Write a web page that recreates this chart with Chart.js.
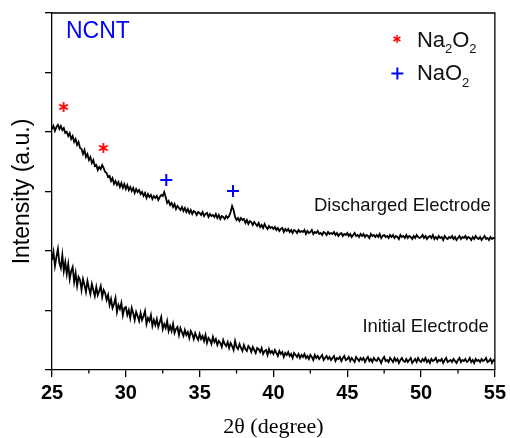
<!DOCTYPE html>
<html>
<head>
<meta charset="utf-8">
<script src="https://cdn.jsdelivr.net/npm/chart.js@4.4.1/dist/chart.umd.min.js"></script>
<style>
  html, body { margin: 0; padding: 0; background: #fff; }
  #xrd { display: block; }
</style>
</head>
<body>
<canvas id="xrd" width="510" height="438"></canvas>
<script>
/* XRD patterns of NCNT electrode, initial vs discharged.
   Intensities, one value per 0.1 degree. */

const scanStart = 25;
const scanStep = 0.1;

const discharged = [
  241, 244, 239, 243, 245, 241, 244, 240, 242, 237,
  238, 234, 237, 231, 234, 228, 231, 225, 228, 222,
  221, 216, 220, 213, 216, 210, 213, 207, 210, 204,
  205, 200, 203, 201, 205, 202, 198, 197, 193, 194,
  189, 192, 186, 189, 185, 188, 183, 187, 182, 186,
  181, 185, 180, 183, 179, 182, 177, 181, 178, 180,
  176, 178, 174, 177, 172, 176, 173, 175, 171, 174,
  172, 174, 170, 173, 175, 174, 178, 173, 167, 169,
  165, 167, 163, 166, 161, 164, 162, 160, 163, 159,
  162, 158, 161, 157, 160, 156, 159, 158, 155, 158,
  157, 155, 158, 154, 156, 157, 153, 156, 154, 155,
  153, 156, 152, 155, 151, 154, 153, 151, 154, 152,
  154, 158, 164, 160, 153, 150, 152, 149, 152, 150,
  151, 147, 150, 146, 149, 148, 145, 148, 146, 144,
  147, 143, 145, 142, 146, 143, 141, 144, 142, 143,
  141, 143, 140, 142, 139, 141, 142, 138, 141, 139,
  141, 138, 140, 137, 140, 139, 137, 140, 138, 139,
  138, 140, 136, 139, 137, 138, 140, 136, 138, 137,
  139, 136, 137, 135, 138, 137, 135, 138, 136, 137,
  136, 138, 135, 137, 134, 136, 137, 134, 136, 135,
  137, 134, 136, 133, 135, 137, 134, 135, 133, 136,
  134, 136, 133, 135, 134, 132, 136, 134, 135, 133,
  135, 133, 136, 132, 134, 135, 133, 134, 132, 135,
  133, 135, 132, 134, 133, 131, 135, 133, 134, 132,
  135, 132, 134, 133, 131, 134, 132, 135, 133, 132,
  133, 135, 132, 134, 131, 133, 134, 132, 135, 131,
  133, 131, 134, 132, 133, 130, 134, 132, 131, 133,
  132, 134, 131, 133, 130, 132, 134, 131, 133, 132,
  134, 131, 133, 132, 130, 133, 131, 134, 132, 131,
  133, 130, 132, 134, 131, 132, 130, 133, 131, 132,
  132,
];

const initial = [
  110, 118, 104, 113, 121, 107, 102, 115, 99, 108,
  96, 106, 91, 99, 103, 88, 97, 84, 93, 90,
  80, 91, 85, 78, 89, 82, 76, 86, 80, 74,
  83, 75, 79, 84, 73, 80, 77, 70, 75, 65,
  71, 62, 66, 72, 58, 65, 61, 67, 55, 62,
  63, 55, 60, 52, 62, 57, 50, 58, 54, 49,
  57, 50, 54, 59, 46, 52, 49, 55, 44, 50,
  45, 51, 43, 48, 53, 41, 46, 42, 49, 39,
  44, 39, 46, 37, 41, 43, 35, 42, 38, 34,
  40, 35, 38, 32, 39, 36, 31, 37, 33, 30,
  36, 31, 34, 29, 35, 27, 32, 30, 26, 33,
  28, 31, 25, 29, 27, 23, 30, 26, 24, 28,
  22, 27, 24, 20, 29, 23, 21, 26, 22, 19,
  25, 21, 19, 24, 22, 18, 23, 20, 17, 22,
  21, 18, 22, 16, 19, 20, 15, 21, 17, 19,
  16, 20, 17, 14, 19, 16, 18, 13, 17, 15,
  18, 14, 16, 12, 17, 15, 13, 16, 12, 15,
  13, 16, 12, 14, 11, 15, 13, 10, 15, 12,
  14, 11, 13, 15, 10, 12, 14, 11, 13, 10,
  12, 14, 9, 12, 11, 13, 9, 12, 14, 10,
  11, 13, 9, 12, 10, 8, 13, 11, 9, 12,
  10, 12, 8, 11, 13, 9, 11, 8, 12, 10,
  9, 12, 10, 7, 11, 13, 9, 10, 8, 12,
  10, 8, 12, 9, 11, 7, 10, 12, 9, 8,
  11, 8, 10, 12, 7, 9, 11, 8, 12, 9,
  8, 11, 9, 12, 8, 10, 7, 11, 9, 10,
  12, 8, 10, 9, 11, 7, 10, 12, 8, 9,
  10, 8, 11, 9, 7, 10, 12, 8, 10, 9,
  11, 8, 9, 12, 8, 10, 7, 11, 9, 10,
  8, 11, 9, 10, 12, 8, 9, 11, 7, 10,
  9,
];

// peak markers (angle, marker height above the trace)
const na2o2Angles = [25.78, 28.48];
const na2o2Marks = [263, 222];
const nao2Angles = [32.74, 37.26];
const nao2Marks = [190, 179];

const xTicks = [25, 30, 35, 40, 45, 50, 55];
const xMinorTicks = [27.5, 32.5, 37.5, 42.5, 47.5, 52.5];
const yTicks = [0, 59.5, 119, 178.5, 238, 297.5, 357];

const RED = "#ff0000";
const BLUE = "#0000ff";
const SANS = '"Liberation Sans", Arial, sans-serif';
const SERIF = '"Liberation Serif", "Times New Roman", serif';

const toPoints = (vals) => vals.map((v, i) => ({ x: +(scanStart + i * scanStep).toFixed(2), y: v }));
const zipPoints = (xs, ys) => xs.map((x, i) => ({ x, y: ys[i] }));

// six-armed asterisk used as a point style
function makeAsterisk(size, color, lw) {
  const c = document.createElement("canvas");
  c.width = c.height = size + 2;
  const g = c.getContext("2d");
  const m = (size + 2) / 2, r = size / 2;
  g.strokeStyle = color;
  g.lineWidth = lw;
  [90, 30, 150].forEach((deg) => {
    const t = (deg * Math.PI) / 180;
    g.beginPath();
    g.moveTo(m - r * Math.cos(t), m - r * Math.sin(t));
    g.lineTo(m + r * Math.cos(t), m + r * Math.sin(t));
    g.stroke();
  });
  return c;
}
const bigStar = makeAsterisk(10, RED, 1.8);
const smallStar = makeAsterisk(8, RED, 1.5);

const framePlugin = {
  id: "frame",
  afterDraw(chart) {
    const { ctx, chartArea: a, scales } = chart;
    ctx.save();
    ctx.strokeStyle = "#000";
    ctx.lineWidth = 1.3;
    ctx.beginPath();
    ctx.moveTo(a.left, a.top);
    ctx.lineTo(a.right, a.top);
    ctx.lineTo(a.right, a.bottom);
    xMinorTicks.forEach((v) => {
      const px = scales.x.getPixelForValue(v);
      ctx.moveTo(px, a.bottom);
      ctx.lineTo(px, a.bottom + 3.5);
    });
    ctx.stroke();
    ctx.restore();
  },
};

function subText(ctx, parts, x, y) {
  // parts: [text, isSub]
  parts.forEach(([t, sub]) => {
    ctx.font = (sub ? "13px " : "22px ") + SANS;
    ctx.fillText(t, x, sub ? y + 6.5 : y);
    x += ctx.measureText(t).width;
  });
}

const labelsPlugin = {
  id: "labels",
  afterDraw(chart) {
    const { ctx, chartArea: a } = chart;
    ctx.save();
    ctx.textBaseline = "alphabetic";

    ctx.fillStyle = BLUE;
    ctx.textAlign = "left";
    ctx.font = "23px " + SANS;
    ctx.fillText("NCNT", a.left + 14, a.top + 25);

    // legend
    ctx.drawImage(smallStar, a.right - 98 - smallStar.width / 2, a.top + 26 - smallStar.height / 2);
    ctx.strokeStyle = BLUE;
    ctx.lineWidth = 2;
    ctx.beginPath();
    ctx.moveTo(a.right - 103.5, a.top + 60.5);
    ctx.lineTo(a.right - 91.5, a.top + 60.5);
    ctx.moveTo(a.right - 97.5, a.top + 54.5);
    ctx.lineTo(a.right - 97.5, a.top + 66.5);
    ctx.stroke();

    ctx.fillStyle = "#111";
    subText(ctx, [["Na", 0], ["2", 1], ["O", 0], ["2", 1]], a.right - 78, a.top + 33.5);
    subText(ctx, [["NaO", 0], ["2", 1]], a.right - 78, a.top + 67);

    ctx.font = "18.5px " + SANS;
    ctx.textAlign = "right";
    ctx.fillText("Discharged Electrode", a.right - 4, a.top + 198);
    ctx.fillText("Initial Electrode", a.right - 6, a.top + 319);
    ctx.restore();
  },
};

const traceStyle = {
  borderColor: "#000",
  borderWidth: 1.8,
  pointRadius: 0,
  tension: 0,
  fill: false,
};

new Chart(document.getElementById("xrd"), {
  type: "line",
  data: {
    datasets: [
      { label: "Discharged Electrode", data: toPoints(discharged), ...traceStyle },
      { label: "Initial Electrode", data: toPoints(initial), ...traceStyle },
      {
        label: "Na2O2",
        type: "scatter",
        data: zipPoints(na2o2Angles, na2o2Marks),
        pointStyle: bigStar,
        pointRadius: 6,
      },
      {
        label: "NaO2",
        type: "scatter",
        data: zipPoints(nao2Angles, nao2Marks),
        pointStyle: "cross",
        pointRadius: 6,
        borderColor: BLUE,
        borderWidth: 2,
      },
    ],
  },
  options: {
    responsive: false,
    animation: false,
    layout: { padding: { left: 0, right: 14, top: 13, bottom: 0 } },
    plugins: { legend: { display: false }, tooltip: { enabled: false } },
    scales: {
      x: {
        type: "linear",
        min: 25,
        max: 55,
        afterBuildTicks: (s) => { s.ticks = xTicks.map((v) => ({ value: v })); },
        afterFit: (s) => { s.height = 68; },
        grid: { drawOnChartArea: false, color: "#000", lineWidth: 1.3, tickLength: 7 },
        border: { display: true, color: "#000", width: 1.3 },
        ticks: { color: "#000", padding: 4, maxRotation: 0, font: { family: SANS, size: 20, weight: "bold" } },
        title: {
          display: true,
          text: "2θ (degree)",
          color: "#000",
          padding: 0,
          font: { family: SERIF, size: 22, lineHeight: 1 },
        },
      },
      y: {
        min: 0,
        max: 357,
        afterBuildTicks: (s) => { s.ticks = yTicks.map((v) => ({ value: v })); },
        afterFit: (s) => { s.width = 52; },
        grid: { drawOnChartArea: false, color: "#000", lineWidth: 1.3, tickLength: 7 },
        border: { display: true, color: "#000", width: 1.3 },
        ticks: { display: false },
        title: {
          display: true,
          text: "Intensity (a.u.)",
          color: "#000",
          padding: { top: 9, bottom: 0 },
          font: { family: SANS, size: 23 },
        },
      },
    },
  },
  plugins: [framePlugin, labelsPlugin],
});
</script>
</body>
</html>
